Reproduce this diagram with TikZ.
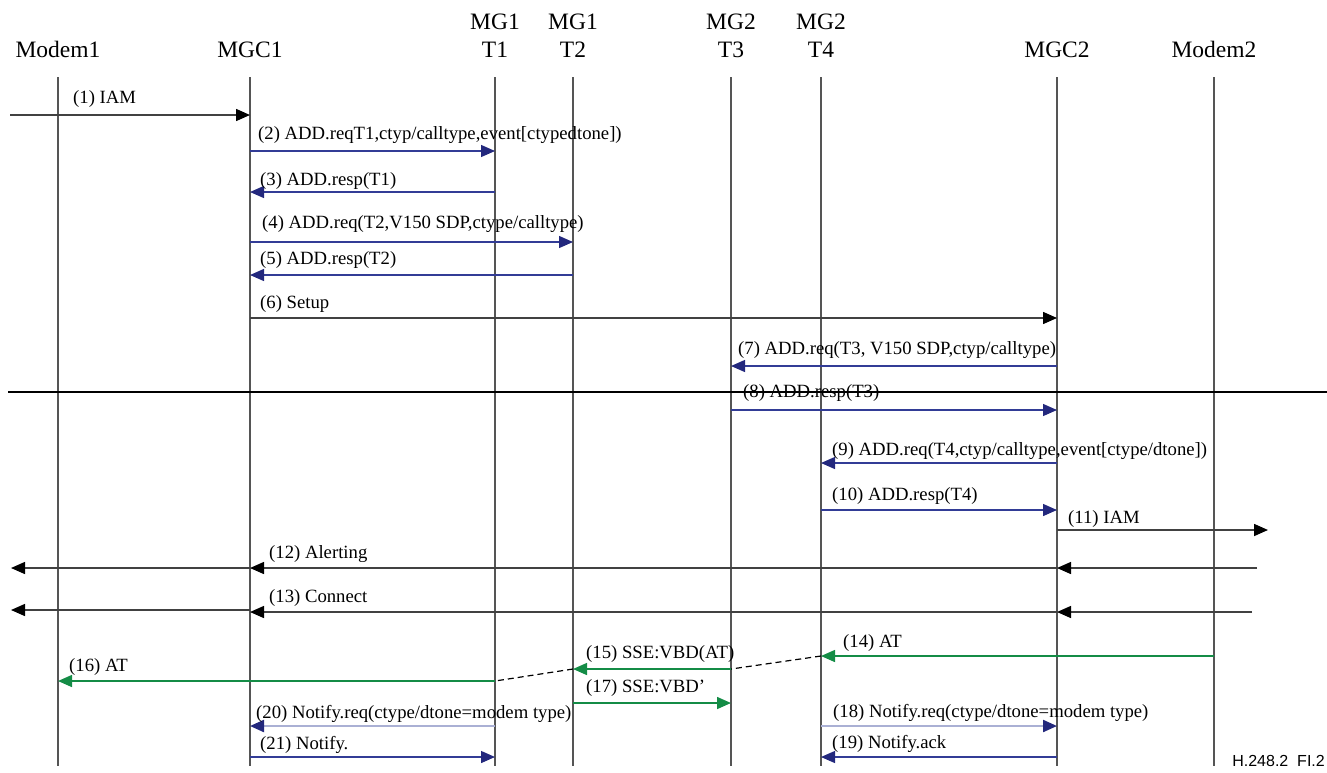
\documentclass[tikz,border=0pt]{standalone}
\usepackage{fontspec}
\setmainfont{Liberation Serif}
\newfontfamily\figsans{Liberation Sans}
\usepackage{tikz}
\usetikzlibrary{arrows.meta}
\definecolor{msgBlue}{RGB}{50,60,150}
\definecolor{tipBlue}{RGB}{35,40,125}
\definecolor{paleBlue}{RGB}{170,176,212}
\definecolor{sigGreen}{RGB}{20,140,70}
\definecolor{lineGray}{RGB}{65,65,65}
\definecolor{lifeGray}{RGB}{85,85,85}

\begin{document}
\begin{tikzpicture}[
    x=1pt, y=-1pt,
    hdr/.style={font=\fontsize{23.5}{26}\selectfont, anchor=base, inner sep=0pt},
    lbl/.style={font=\fontsize{18.7}{21}\selectfont, anchor=base west, inner sep=0pt},
    life/.style={draw=lifeGray, line width=1.4pt},
    blk/.style={draw=lineGray, line width=1.5pt, -{Triangle[length=14pt,width=12pt,color=black]}},
    blu/.style={draw=msgBlue, line width=1.3pt, -{Triangle[length=14pt,width=12pt,color=tipBlue]}},
    pale/.style={draw=paleBlue, line width=2.2pt, -{Triangle[length=14pt,width=12pt,color=tipBlue]}},
    grn/.style={draw=sigGreen, line width=1.5pt, -{Triangle[length=14pt,width=12pt,color=sigGreen]}},
    link/.style={draw=black, line width=1.2pt, dash pattern=on 6pt off 4pt}
]
  \useasboundingbox (0,0) rectangle (1327,772);

  \node[hdr] (modem1) at (58,57) {Modem1};
  \node[hdr] (mgc1) at (250,57) {MGC1};
  \node[hdr] (mg1a) at (495,29) {MG1};
  \node[hdr] (t1) at (495,57) {T1};
  \node[hdr] (mg1b) at (573,29) {MG1};
  \node[hdr] (t2) at (573,57) {T2};
  \node[hdr] (mg2a) at (731,29) {MG2};
  \node[hdr] (t3) at (731,57) {T3};
  \node[hdr] (mg2b) at (821,29) {MG2};
  \node[hdr] (t4) at (821,57) {T4};
  \node[hdr] (mgc2) at (1057,57) {MGC2};
  \node[hdr] (modem2) at (1214,57) {Modem2};

  \coordinate (top) at (0,77);
  \coordinate (bot) at (0,766);
  \foreach \n in {modem1,mgc1,t1,t2,t3,t4,mgc2,modem2} {
    \draw[life] (\n |- top) -- (\n |- bot);
  }

  \foreach \r/\y in {1/115, 2/151, 3/192, 4/242, 5/275, 6/318, 7/366, 8/410, 9/463, 10/510,
                     11/530, 12/568, 13/610, 13b/612, 14/656, 15/669, 16/681, 17/703,
                     18/726, 19/757, 20/726, 21/757} {
    \coordinate (r\r) at (0,\y);
  }

  \draw[line width=2.4pt] (8,392) -- (1327,392);

  % black signalling
  \coordinate (in1) at (10,115);
  \coordinate (out11) at (1268,530);
  \coordinate (src12) at (1257,568);
  \coordinate (dst12) at (11,568);
  \coordinate (src13) at (1252,612);
  \coordinate (dst13) at (11,610);
  \draw[blk] (in1) -- (mgc1 |- r1);
  \draw[blk] (mgc1 |- r6) -- (mgc2 |- r6);
  \draw[blk] (mgc2 |- r11) -- (out11);
  \draw[blk] (src12) -- (mgc2 |- r12);
  \draw[blk] (mgc2 |- r12) -- (mgc1 |- r12);
  \draw[blk] (mgc1 |- r12) -- (dst12);
  \draw[blk] (src13) -- (mgc2 |- r13b);
  \draw[blk] (mgc2 |- r13b) -- (mgc1 |- r13b);
  \draw[blk] (mgc1 |- r13) -- (dst13);

  % H.248 messages
  \foreach \a/\b/\r in {mgc1/t1/2, t1/mgc1/3, mgc1/t2/4, t2/mgc1/5, mgc2/t3/7, t3/mgc2/8,
                        mgc2/t4/9, t4/mgc2/10, mgc2/t4/19, mgc1/t1/21} {
    \draw[blu] (\a |- r\r) -- (\b |- r\r);
  }
  \draw[pale] (t4 |- r18) -- (mgc2 |- r18);
  \draw[pale] (t1 |- r20) -- (mgc1 |- r20);

  % tones
  \draw[grn] (modem2 |- r14) -- (t4 |- r14);
  \draw[link] (t4 |- r14) -- (t3 |- r15);
  \draw[grn] (t3 |- r15) -- (t2 |- r15);
  \draw[link] (t2 |- r15) -- (t1 |- r16);
  \draw[grn] (t1 |- r16) -- (modem1 |- r16);
  \draw[grn] (t2 |- r17) -- (t3 |- r17);

  \node[lbl] (m1) at (73,103) {(1) IAM};
  \node[lbl] (m2) at (258,139) {(2) ADD.reqT1,ctyp/calltype,event[ctypedtone])};
  \node[lbl] (m3) at (260,185) {(3) ADD.resp(T1)};
  \node[lbl] (m4) at (262,228) {(4) ADD.req(T2,V150 SDP,ctype/calltype)};
  \node[lbl] (m5) at (260,264) {(5) ADD.resp(T2)};
  \node[lbl] (m6) at (260,308) {(6) Setup};
  \node[lbl] (m7) at (738,354) {(7) ADD.req(T3, V150 SDP,ctyp/calltype)};
  \node[lbl] (m8) at (743,397) {(8) ADD.resp(T3)};
  \node[lbl] (m9) at (832,455) {(9) ADD.req(T4,ctyp/calltype,event[ctype/dtone])};
  \node[lbl] (m10) at (832,500) {(10) ADD.resp(T4)};
  \node[lbl] (m11) at (1068,523) {(11) IAM};
  \node[lbl] (m12) at (269,558) {(12) Alerting};
  \node[lbl] (m13) at (269,602) {(13) Connect};
  \node[lbl] (m14) at (843,647) {(14) AT};
  \node[lbl] (m15) at (586,658) {(15) SSE:VBD(AT)};
  \node[lbl] (m16) at (69,671) {(16) AT};
  \node[lbl] (m17) at (586,692) {(17) SSE:VBD’};
  \node[lbl] (m18) at (833,717) {(18) Notify.req(ctype/dtone=modem type)};
  \node[lbl] (m19) at (832,748) {(19) Notify.ack};
  \node[lbl] (m20) at (256,718) {(20) Notify.req(ctype/dtone=modem type)};
  \node[lbl] (m21) at (260,749) {(21) Notify.};

  \node[font=\figsans\fontsize{16}{18}\selectfont, anchor=base east, inner sep=0pt] (fig) at (1325,766) {H.248.2\ \ FI.2};
\end{tikzpicture}
\end{document}
